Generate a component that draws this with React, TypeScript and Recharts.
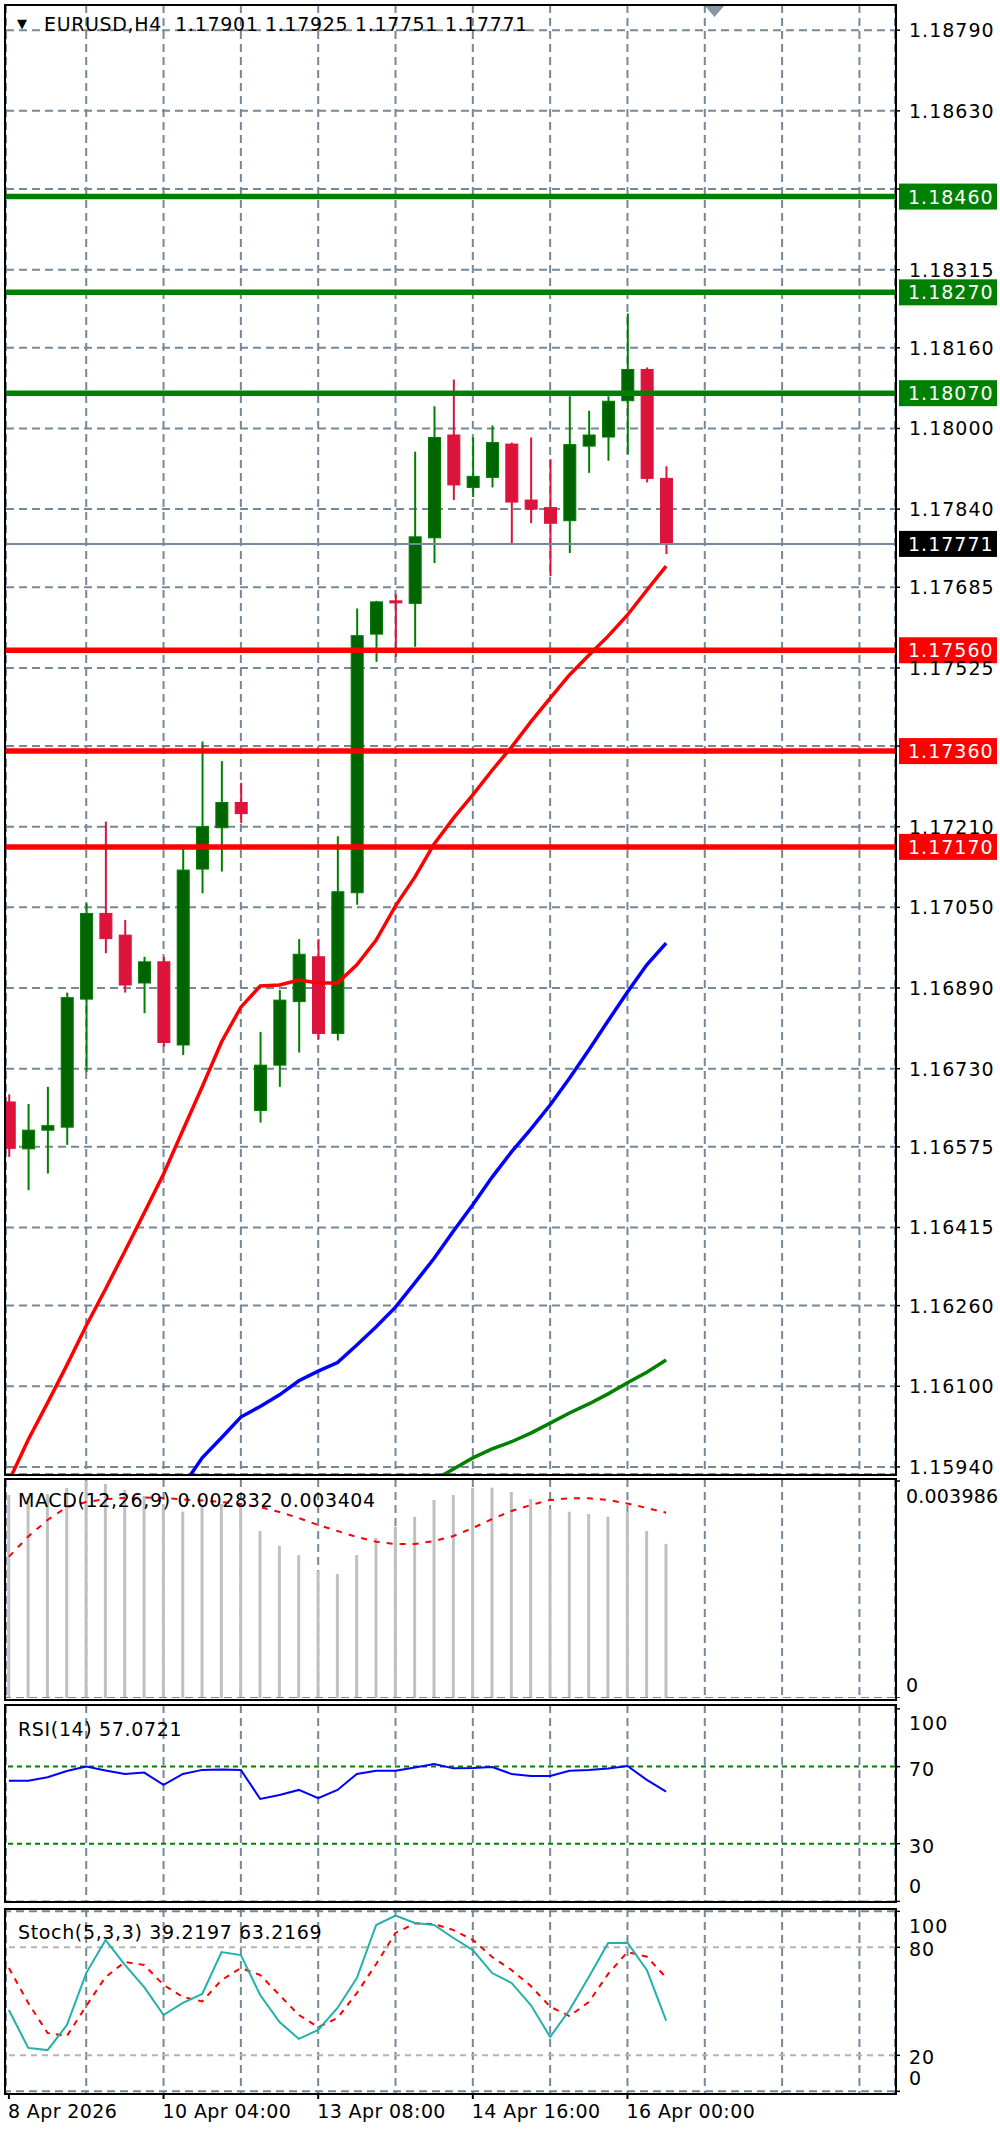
import React from 'react';
import { ComposedChart, Bar, Line, XAxis, YAxis, CartesianGrid, ReferenceLine } from 'recharts';

const FONT = '"DejaVu Sans", Verdana, sans-serif';

// ---------- data ----------
const opens = [1.16664, 1.16571, 1.16608, 1.16614, 1.16868, 1.17038, 1.16995, 1.169, 1.16942, 1.16777, 1.17126, 1.17208, 1.17258, 1.16647, 1.16737, 1.16863, 1.16952, 1.168, 1.17079, 1.17592, 1.17658, 1.17653, 1.17783, 1.17987, 1.17883, 1.17903, 1.17969, 1.17858, 1.17843, 1.17817, 1.17965, 1.17983, 1.18055, 1.18117, 1.17901];
const highs = [1.16679, 1.1666, 1.16694, 1.16881, 1.17058, 1.1722, 1.17025, 1.16952, 1.16952, 1.17174, 1.17379, 1.1734, 1.17297, 1.16803, 1.16886, 1.16987, 1.16987, 1.17191, 1.17643, 1.17658, 1.17671, 1.17954, 1.18044, 1.18097, 1.17982, 1.18006, 1.17972, 1.17982, 1.17939, 1.18064, 1.18035, 1.18064, 1.18228, 1.18121, 1.17925];
const lows = [1.16555, 1.16489, 1.16522, 1.16579, 1.16724, 1.16959, 1.16881, 1.1684, 1.16774, 1.16757, 1.17078, 1.17121, 1.17217, 1.16623, 1.16694, 1.16762, 1.16788, 1.16786, 1.17055, 1.17537, 1.17547, 1.17567, 1.17733, 1.17858, 1.17864, 1.17883, 1.17772, 1.17812, 1.17707, 1.17753, 1.17912, 1.17936, 1.17949, 1.17893, 1.17751];
const closes = [1.16572, 1.16608, 1.16617, 1.16871, 1.17038, 1.16988, 1.16896, 1.16942, 1.16782, 1.17124, 1.1721, 1.17258, 1.17236, 1.16737, 1.16866, 1.16957, 1.168, 1.17081, 1.17589, 1.17656, 1.17654, 1.17785, 1.17982, 1.17888, 1.17905, 1.17972, 1.17854, 1.1784, 1.17812, 1.17968, 1.17987, 1.18054, 1.18117, 1.17901, 1.17771];

const maRed = [1.15912, 1.15994, 1.16067, 1.16142, 1.1622, 1.16293, 1.16368, 1.16444, 1.16521, 1.16608, 1.16694, 1.16783, 1.16852, 1.16894, 1.16896, 1.16906, 1.169, 1.169, 1.16936, 1.16985, 1.17053, 1.1711, 1.17176, 1.17227, 1.17273, 1.17322, 1.17368, 1.17418, 1.17465, 1.17511, 1.1755, 1.17588, 1.1763, 1.17679, 1.17727];
const maBlue = [null, null, null, null, null, null, null, null, 1.15853, 1.15902, 1.15958, 1.15998, 1.16039, 1.1606, 1.16083, 1.16111, 1.1613, 1.16147, 1.16182, 1.16218, 1.16257, 1.16305, 1.16354, 1.16408, 1.1646, 1.16515, 1.16565, 1.1661, 1.16658, 1.16711, 1.16767, 1.16825, 1.16882, 1.16936, 1.16979];
const maGreen = [null, null, null, null, null, null, null, null, null, null, null, null, null, null, null, null, null, null, null, null, null, null, 1.15914, 1.15936, 1.15958, 1.15976, 1.1599, 1.16007, 1.16027, 1.16047, 1.16065, 1.16085, 1.16107, 1.16128, 1.16152];

const macdMain = [0.003729, 0.003692, 0.003747, 0.003857, 0.003986, 0.003931, 0.003821, 0.003711, 0.003564, 0.003422, 0.003508, 0.003564, 0.003545, 0.003068, 0.002798, 0.002627, 0.002333, 0.002278, 0.002627, 0.002939, 0.003147, 0.00333, 0.003637, 0.003729, 0.003857, 0.003863, 0.003784, 0.003655, 0.003472, 0.003422, 0.00338, 0.00333, 0.003422, 0.003068, 0.002832];
const macdSignal = [0.002596, 0.002966, 0.00327, 0.003508, 0.0036, 0.003655, 0.003674, 0.003683, 0.003674, 0.003646, 0.003628, 0.0036, 0.003563, 0.003508, 0.003417, 0.003306, 0.003178, 0.003068, 0.002957, 0.002871, 0.002829, 0.002829, 0.002884, 0.002976, 0.003123, 0.003288, 0.003435, 0.003545, 0.003637, 0.003668, 0.003668, 0.003637, 0.003573, 0.00349, 0.003404];

const rsiValues = [62.7, 62.7, 64.5, 67.7, 70.0, 68.0, 66.2, 66.9, 60.5, 66.2, 68.3, 68.5, 68.3, 53.2, 55.3, 57.9, 53.6, 57.9, 66.2, 67.9, 67.9, 69.6, 71.4, 69.1, 69.3, 69.8, 66.2, 65.1, 65.1, 67.9, 68.3, 69.0, 70.3, 63.1, 57.0721];

const stochMain = [45.2, 24.1, 22.9, 36.8, 65.7, 84.1, 70.2, 57.9, 42.4, 49.1, 54.1, 77.4, 75.7, 53.5, 38.5, 29.1, 34.1, 46.3, 62.9, 92.4, 97.6, 93.5, 92.4, 85.2, 78.5, 65.7, 60.2, 47.9, 30.2, 45.2, 63.5, 82.4, 82.6, 67.4, 39.2197];
const stochSignal = [68.5, 49.1, 32.4, 30.7, 47.4, 63.5, 71.8, 70.2, 59.1, 52.4, 49.9, 61.8, 68.5, 64.6, 53.5, 42.4, 35.7, 40.7, 54.6, 70.7, 88.0, 93.3, 92.9, 89.6, 84.1, 74.6, 67.4, 58.5, 47.0, 41.8, 49.6, 65.2, 77.4, 74.8, 63.2169];

const priceTicks = [1.1879, 1.1863, 1.18475, 1.18315, 1.1816, 1.18, 1.1784, 1.17685, 1.17525, 1.1737, 1.1721, 1.1705, 1.1689, 1.1673, 1.16575, 1.16415, 1.1626, 1.161, 1.1594];
const priceTickLabels = ['1.18790', '1.18630', '1.18475', '1.18315', '1.18160', '1.18000', '1.17840', '1.17685', '1.17525', '1.17370', '1.17210', '1.17050', '1.16890', '1.16730', '1.16575', '1.16415', '1.16260', '1.16100', '1.15940'];

const resistanceLevels = [1.1846, 1.1827, 1.1807];
const resistanceLabels = ['1.18460', '1.18270', '1.18070'];
const supportLevels = [1.1756, 1.1736, 1.1717];
const supportLabels = ['1.17560', '1.17360', '1.17170'];
const lastPrice = 1.17771;
const lastPriceLabel = '1.17771';

const macdTicks = [0.003986, 0];
const macdTickLabels = ['0.003986', '0'];
const rsiTicks = [100, 70, 30, 0];
const rsiLevels = [70, 30];
const stochTicks = [100, 80, 20, 0];
const stochLevels = [80, 20];

const gridIdx = [4, 8, 12, 16, 20, 24, 28, 32, 36, 40, 44];
const timeTickIdx = [0, 8, 16, 24, 32];
const timeTickLabels = ['8 Apr 2026', '10 Apr 04:00', '13 Apr 08:00', '14 Apr 16:00', '16 Apr 00:00'];

const mainTitle = 'EURUSD,H4  1.17901 1.17925 1.17751 1.17771';
const macdTitle = 'MACD(12,26,9) 0.002832 0.003404';
const rsiTitle = 'RSI(14) 57.0721';
const stochTitle = 'Stoch(5,3,3) 39.2197 63.2169';

const data = opens.map((o, i) => ({
  i,
  open: o,
  high: highs[i],
  low: lows[i],
  close: closes[i],
  maRed: maRed[i],
  maBlue: maBlue[i],
  maGreen: maGreen[i],
  macd: macdMain[i],
  signal: macdSignal[i],
  rsi: rsiValues[i],
  stoch: stochMain[i],
  stochSig: stochSignal[i],
}));

// ---------- layout ----------
const W = 1000;
const AXIS_W = 105;
const LEFT = 6;
const X_DOMAIN: [number, number] = [-0.15, 45.84];
const GRID = '#778899';
const GRID_DASH = '8 5';

const axisText: React.CSSProperties = {
  fontFamily: FONT,
  fontSize: 19,
  letterSpacing: 1.0,
};
const narrowAxisText: React.CSSProperties = {
  fontFamily: FONT,
  fontSize: 19,
  letterSpacing: 0.2,
};
const titleText: React.CSSProperties = {
  fontFamily: FONT,
  fontSize: 19,
  letterSpacing: 0.65,
};
const timeText: React.CSSProperties = {
  fontFamily: FONT,
  fontSize: 19,
  letterSpacing: 0.4,
};

function Candle(props: any) {
  const { x, y, width, height, payload } = props;
  if (!payload || x == null || y == null) return null;
  let top = y;
  let h = height;
  if (h < 0) {
    top = y + h;
    h = -h;
  }
  const { open, close, high, low } = payload;
  const span = high - low || 1e-9;
  const pix = (v: number) => top + ((high - v) / span) * h;
  const up = close >= open;
  const cx = x + width / 2;
  const yo = pix(open);
  const yc = pix(close);
  const bt = Math.min(yo, yc);
  const bh = Math.max(Math.abs(yc - yo), 1.5);
  const wick = up ? '#008000' : '#DC143C';
  return (
    <g>
      <line x1={cx} x2={cx} y1={top} y2={top + h} stroke={wick} strokeWidth={2} />
      <rect x={x} y={bt} width={width} height={bh} fill={up ? '#006400' : '#DC143C'} stroke={up ? '#008000' : '#DC143C'} strokeWidth={1} />
    </g>
  );
}

const allLevels = [...resistanceLevels, ...supportLevels];

function PriceTick(props: any) {
  const { x, y, payload } = props;
  const v = payload.value;
  if (allLevels.some((l) => Math.abs(l - v) < 0.0002)) return null;
  const k = priceTicks.indexOf(v);
  return (
    <text x={x + 7} y={y} dy={7} fill="#000" style={axisText}>
      {priceTickLabels[k]}
    </text>
  );
}

function makeIndTick(labels: (v: number) => string, top: number, bottom: number, topDy: number, botDy: number, style: React.CSSProperties, dx: number) {
  return function IndTick(props: any) {
    const { x, y, payload } = props;
    const v = payload.value;
    const dy = v === top ? topDy : v === bottom ? botDy : 2;
    return (
      <text x={x + dx} y={y + dy} dy={7} fill="#000" style={style}>
        {labels(v)}
      </text>
    );
  };
}

const MacdTick = makeIndTick((v) => macdTickLabels[macdTicks.indexOf(v)], macdTicks[0], 0, 15, -13, narrowAxisText, 4);
const RsiTick = makeIndTick((v) => String(v), 100, 0, 14, -15, axisText, 7);
const StochTick = makeIndTick((v) => String(v), 100, 0, 15, -13, axisText, 7);

function TimeTick(props: any) {
  const { x, y, payload } = props;
  const k = timeTickIdx.indexOf(payload.value);
  return (
    <text x={x - 1} y={y + 17} fill="#000" style={timeText}>
      {timeTickLabels[k]}
    </text>
  );
}

function levelTag(text: string, fill: string) {
  return function Tag(props: any) {
    const vb = props.viewBox || {};
    const xr = (vb.x || 0) + (vb.width || 0);
    const yc = vb.y || 0;
    return (
      <g>
        <rect x={xr + 4} y={yc - 13} width={98} height={26} fill={fill} />
        <text x={xr + 13} y={yc} dy={7} fill="#fff" style={axisText}>
          {text}
        </text>
      </g>
    );
  };
}

function Border({ top, height }: { top: number; height: number }) {
  return (
    <div
      style={{
        position: 'absolute',
        left: 4,
        top,
        width: 893,
        height,
        border: '2px solid #000',
        boxSizing: 'border-box',
        pointerEvents: 'none',
      }}
    />
  );
}

function Title({ top, left, text }: { top: number; left: number; text: string }) {
  return (
    <div
      style={{
        position: 'absolute',
        left,
        top,
        whiteSpace: 'pre',
        lineHeight: '20px',
        color: '#000',
        ...titleText,
      }}
    >
      {text}
    </div>
  );
}

const gridXAxis = (
  <XAxis dataKey="i" type="number" domain={X_DOMAIN} allowDataOverflow ticks={gridIdx} hide height={0} interval={0} />
);

export default function App() {
  return (
    <div style={{ position: 'absolute', left: 0, top: 0, width: W, height: 2130, background: '#fff', overflow: 'hidden' }}>
      {/* MAIN PRICE PANEL */}
      <div style={{ position: 'absolute', left: 0, top: 5 }}>
        <ComposedChart width={W} height={1477} data={data} margin={{ top: 0, right: 0, bottom: 8, left: LEFT }}>
          <CartesianGrid stroke={GRID} strokeDasharray={GRID_DASH} strokeWidth={2} />
          {gridXAxis}
          <YAxis
            orientation="right"
            type="number"
            width={AXIS_W}
            domain={[1.15926, 1.1884]}
            allowDataOverflow
            ticks={priceTicks}
            interval={0}
            tick={<PriceTick />}
            tickSize={5}
            axisLine={false}
            tickLine={{ stroke: '#000', strokeWidth: 1.5 }}
          />
          {resistanceLevels.map((lv, k) => (
            <ReferenceLine key={'r' + k} y={lv} stroke="#008000" strokeWidth={5.5} label={levelTag(resistanceLabels[k], '#008000')} />
          ))}
          {supportLevels.map((lv, k) => (
            <ReferenceLine key={'s' + k} y={lv} stroke="#FF0000" strokeWidth={5.5} label={levelTag(supportLabels[k], '#FF0000')} />
          ))}
          <ReferenceLine y={lastPrice} stroke="#778899" strokeWidth={2} label={levelTag(lastPriceLabel, '#000000')} />
          <Bar dataKey={(d: any) => [d.low, d.high]} barSize={12} shape={<Candle />} isAnimationActive={false} />
          <Line dataKey="maRed" stroke="#FF0000" strokeWidth={3.5} dot={false} isAnimationActive={false} />
          <Line dataKey="maBlue" stroke="#0000FF" strokeWidth={3.5} dot={false} isAnimationActive={false} />
          <Line dataKey="maGreen" stroke="#008000" strokeWidth={3.5} dot={false} isAnimationActive={false} />
        </ComposedChart>
      </div>
      <Border top={4} height={1472} />
      <div style={{ position: 'absolute', left: 17, top: 14, fontSize: 13, lineHeight: '20px', fontFamily: FONT }}>▼</div>
      <Title top={14} left={44} text={mainTitle} />
      <svg style={{ position: 'absolute', left: 0, top: 0 }} width={W} height={30}>
        <polygon points="705,6 724,6 714.5,17" fill="#8896a6" />
      </svg>

      {/* MACD PANEL */}
      <div style={{ position: 'absolute', left: 0, top: 1479 }}>
        <ComposedChart width={W} height={219} data={data} margin={{ top: 0, right: 0, bottom: 0, left: LEFT }}>
          <CartesianGrid stroke={GRID} strokeDasharray={GRID_DASH} strokeWidth={2} horizontal={false} />
          {gridXAxis}
          <YAxis
            orientation="right"
            type="number"
            width={AXIS_W}
            domain={[0, 0.004023]}
            allowDataOverflow
            ticks={macdTicks}
            interval={0}
            tick={<MacdTick />}
            tickSize={5}
            axisLine={false}
            tickLine={{ stroke: '#000', strokeWidth: 1.5 }}
          />
          <ReferenceLine y={0} stroke={GRID} strokeDasharray={GRID_DASH} strokeWidth={2} />
          <Bar dataKey="macd" barSize={3} fill="#C0C0C0" isAnimationActive={false} />
          <Line dataKey="signal" stroke="#FF0000" strokeWidth={2} strokeDasharray="6 7" dot={false} isAnimationActive={false} />
        </ComposedChart>
      </div>
      <Border top={1478} height={223} />
      <Title top={1490} left={18} text={macdTitle} />

      {/* RSI PANEL */}
      <div style={{ position: 'absolute', left: 0, top: 1705 }}>
        <ComposedChart width={W} height={197} data={data} margin={{ top: 0, right: 0, bottom: 0, left: LEFT }}>
          <CartesianGrid stroke={GRID} strokeDasharray={GRID_DASH} strokeWidth={2} horizontal={false} />
          {gridXAxis}
          <YAxis
            orientation="right"
            type="number"
            width={AXIS_W}
            domain={[-0.3, 102]}
            allowDataOverflow
            ticks={rsiTicks}
            interval={0}
            tick={<RsiTick />}
            tickSize={5}
            axisLine={false}
            tickLine={{ stroke: '#000', strokeWidth: 1.5 }}
          />
          <ReferenceLine y={0} stroke={GRID} strokeDasharray={GRID_DASH} strokeWidth={2} />
          {rsiLevels.map((lv) => (
            <ReferenceLine key={lv} y={lv} stroke="#008000" strokeDasharray="5 4" strokeWidth={2} />
          ))}
          <Line dataKey="rsi" stroke="#0000FF" strokeWidth={2} dot={false} isAnimationActive={false} />
        </ComposedChart>
      </div>
      <Border top={1704} height={199} />
      <Title top={1719} left={18} text={rsiTitle} />

      {/* STOCH PANEL */}
      <div style={{ position: 'absolute', left: 0, top: 1909 }}>
        <ComposedChart width={W} height={221} data={data} margin={{ top: 0, right: 0, bottom: 0, left: LEFT }}>
          <CartesianGrid stroke={GRID} strokeDasharray={GRID_DASH} strokeWidth={2} horizontal={false} />
          {gridXAxis}
          <XAxis
            xAxisId="time"
            dataKey="i"
            type="number"
            domain={X_DOMAIN}
            allowDataOverflow
            ticks={timeTickIdx}
            interval={0}
            height={37}
            tick={<TimeTick />}
            tickSize={6}
            axisLine={false}
            tickLine={{ stroke: '#000', strokeWidth: 2 }}
          />
          <YAxis
            orientation="right"
            type="number"
            width={AXIS_W}
            domain={[-0.94, 101.3]}
            allowDataOverflow
            ticks={stochTicks}
            interval={0}
            tick={<StochTick />}
            tickSize={5}
            axisLine={false}
            tickLine={{ stroke: '#000', strokeWidth: 1.5 }}
          />
          <ReferenceLine y={0} stroke={GRID} strokeDasharray={GRID_DASH} strokeWidth={2} />
          <ReferenceLine y={100} stroke={GRID} strokeDasharray={GRID_DASH} strokeWidth={2} />
          {stochLevels.map((lv) => (
            <ReferenceLine key={lv} y={lv} stroke="#B4B4B4" strokeDasharray="6 5" strokeWidth={2} />
          ))}
          <Line dataKey="stochSig" stroke="#FF0000" strokeWidth={2} strokeDasharray="6 6" dot={false} isAnimationActive={false} />
          <Line dataKey="stoch" stroke="#20B2AA" strokeWidth={2} dot={false} isAnimationActive={false} />
        </ComposedChart>
      </div>
      <Border top={1908} height={187} />
      <Title top={1922} left={18} text={stochTitle} />
    </div>
  );
}
